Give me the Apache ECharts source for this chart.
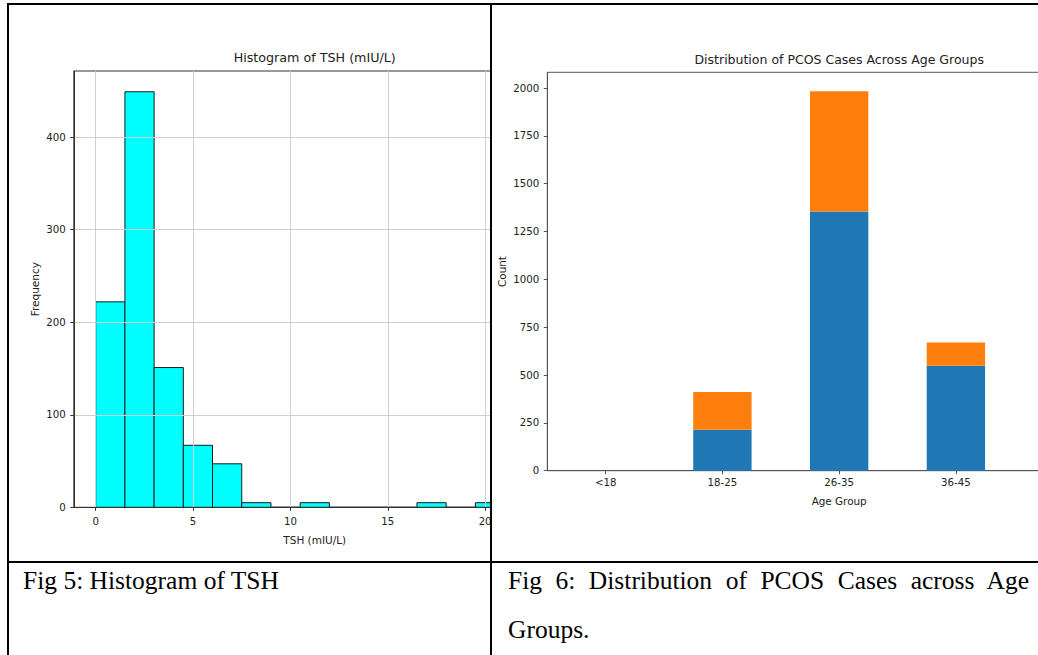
<!DOCTYPE html>
<html>
<head>
<meta charset="utf-8">
<title>TSH histogram and PCOS cases by age group</title>
<script src="https://cdn.jsdelivr.net/npm/echarts@6/dist/echarts.min.js"></script>
<style>
  html, body { margin: 0; padding: 0; background: #fff; }
  body { width: 1038px; height: 655px; position: relative; overflow: hidden; }
  .cell { position: absolute; overflow: hidden; }
  .chart { position: absolute; }
  .rule { position: absolute; background: #000; }
  .caption {
    position: absolute;
    font-family: 'Liberation Serif', 'Times New Roman', serif;
    font-size: 25.5px;
    line-height: 49px;
    color: #000;
  }
</style>
</head>
<body>
<div class="cell" style="left:9px;top:5px;width:481px;height:556px;">
  <div id="tsh" class="chart" style="left:-9px;top:-5px;width:600px;height:560px;"></div>
</div>
<div class="cell" style="left:492px;top:5px;width:546px;height:556px;">
  <div id="age" class="chart" style="left:-492px;top:-5px;width:1200px;height:560px;"></div>
</div>
<div class="caption" style="left:23px;top:556px;">Fig 5: Histogram of TSH</div>
<div class="caption" style="left:508px;top:556px;width:521px;text-align:justify;">Fig 6: Distribution of PCOS Cases across Age Groups.</div>

<div class="rule" style="left:7px;top:3px;width:1031px;height:2px;"></div>
<div class="rule" style="left:7px;top:3px;width:2px;height:652px;"></div>
<div class="rule" style="left:490px;top:3px;width:2px;height:652px;"></div>
<div class="rule" style="left:7px;top:561px;width:1031px;height:2px;"></div>

<script>
// TSH histogram: bin edges (mIU/L) and frequency per bin
const tshBinEdges = [0, 1.5, 3, 4.5, 6, 7.5, 9, 10.5, 12, 13.5, 15, 16.5, 18, 19.5, 21, 22.5];
const tshCounts = [222, 449, 151, 67, 47, 5, 0, 5, 0, 0, 0, 5, 0, 5, 5];
const tshTicks = [0, 5, 10, 15, 20];
const freqTicks = [0, 100, 200, 300, 400];

// PCOS cases per age group (two stacked groups)
const ageGroups = ['<18', '18-25', '26-35', '36-45'];
const groupA = [0, 214, 1355, 548];
const groupB = [0, 197, 628, 122];
const countTicks = [0, 250, 500, 750, 1000, 1250, 1500, 1750, 2000];
// the axis leaves room for one more age band past the last listed group
const ageSlots = ageGroups.length + 1;

const FONT = 'DejaVu Sans';
const INK = '#222';
const plain = v => String(v);

// ---------- Histogram of TSH ----------
const tshLo = tshBinEdges[0];
const tshHi = tshBinEdges[tshBinEdges.length - 1];
const tshPad = (tshHi - tshLo) * 0.05;
const freqTop = Math.max(...tshCounts) * 1.05;
const binRows = tshCounts.map((c, i) => [tshBinEdges[i], tshBinEdges[i + 1], c]);

function renderBin(params, api) {
  const base = api.coord([api.value(0), 0]);
  const top = api.coord([api.value(1), api.value(2)]);
  return {
    type: 'rect',
    shape: { x: base[0], y: top[1], width: top[0] - base[0], height: base[1] - top[1] },
    style: { fill: '#00ffff', stroke: '#1a1a1a', lineWidth: 1 }
  };
}

const tshChart = echarts.init(document.getElementById('tsh'), null, { renderer: 'svg' });
tshChart.setOption({
  animation: false,
  textStyle: { fontFamily: FONT },
  grid: {
    left: 73.8, top: 71, width: 481.9, height: 436.3,
    show: true, borderColor: '#333', borderWidth: 1,
    outerBoundsMode: 'none'
  },
  graphic: [{
    type: 'text', x: 314.7, y: 57,
    style: {
      text: 'Histogram of TSH (mIU/L)', fontFamily: FONT, fontSize: 12.7,
      fill: INK, textAlign: 'center', textVerticalAlign: 'middle'
    }
  }],
  xAxis: {
    type: 'value', min: tshLo - tshPad, max: tshHi + tshPad, z: 3,
    name: 'TSH (mIU/L)', nameLocation: 'middle', nameGap: 27, nameMoveOverlap: false,
    nameTextStyle: { fontSize: 10.5, color: INK, fontFamily: FONT },
    axisLine: { show: true, onZero: false, lineStyle: { color: '#333', width: 1 } },
    axisTick: { show: true, customValues: tshTicks, length: 3.5, lineStyle: { color: '#333' } },
    axisLabel: { customValues: tshTicks, formatter: plain, margin: 9, fontSize: 10.2, color: INK, fontFamily: FONT },
    splitLine: { show: true, lineStyle: { color: '#cfcfcf', width: 1 } }
  },
  yAxis: {
    type: 'value', min: 0, max: freqTop, z: 3,
    name: 'Frequency', nameLocation: 'middle', nameGap: 33, nameMoveOverlap: false,
    nameTextStyle: { fontSize: 10.5, color: INK, fontFamily: FONT },
    axisLine: { show: true, onZero: false, lineStyle: { color: '#333', width: 1 } },
    axisTick: { show: true, customValues: freqTicks, length: 3.5, lineStyle: { color: '#333' } },
    axisLabel: { customValues: freqTicks, formatter: plain, margin: 8, fontSize: 10.2, color: INK, fontFamily: FONT },
    splitLine: { show: true, lineStyle: { color: '#cfcfcf', width: 1 } }
  },
  series: [{
    type: 'custom',
    renderItem: renderBin,
    data: binRows,
    encode: { x: [0, 1], y: 2 },
    clip: true
  }]
});

// ---------- PCOS cases across age groups ----------
const slotIndex = ageGroups.map((g, i) => i);
const stackTotals = groupA.map((v, i) => v + groupB[i]);
const countTop = Math.max(...stackTotals) * 1.05;
const BAR_HALF = 0.25; // half of the bar width, in age-slot units

// each row: [slot, lower edge, upper edge] of one stacked segment
const rowsA = groupA.map((v, i) => [slotIndex[i], 0, v]);
const rowsB = groupB.map((v, i) => [slotIndex[i], groupA[i], groupA[i] + v]);

function segmentRenderer(fill) {
  return function (params, api) {
    const x = api.value(0);
    const lo = api.coord([x - BAR_HALF, api.value(1)]);
    const hi = api.coord([x + BAR_HALF, api.value(2)]);
    return {
      type: 'rect',
      shape: { x: lo[0], y: hi[1], width: hi[0] - lo[0], height: lo[1] - hi[1] },
      style: { fill: fill }
    };
  };
}

const ageChart = echarts.init(document.getElementById('age'), null, { renderer: 'svg' });
ageChart.setOption({
  animation: false,
  textStyle: { fontFamily: FONT },
  grid: {
    left: 547.3, top: 72.3, width: 583.7, height: 398.4,
    show: true, borderColor: '#555', borderWidth: 1,
    outerBoundsMode: 'none'
  },
  graphic: [{
    type: 'text', x: 839.2, y: 59.5,
    style: {
      text: 'Distribution of PCOS Cases Across Age Groups', fontFamily: FONT, fontSize: 12.5,
      fill: INK, textAlign: 'center', textVerticalAlign: 'middle'
    }
  }],
  xAxis: {
    type: 'value', min: -0.5, max: ageSlots - 0.5,
    name: 'Age Group', nameLocation: 'middle', nameGap: 25, nameMoveOverlap: false,
    nameTextStyle: { fontSize: 10.4, color: INK, fontFamily: FONT },
    axisLine: { show: true, onZero: false, lineStyle: { color: '#555', width: 1 } },
    axisTick: { show: true, customValues: slotIndex, length: 3.5, lineStyle: { color: '#555' } },
    axisLabel: {
      customValues: slotIndex, formatter: v => ageGroups[Math.round(v)],
      margin: 6.5, fontSize: 10.2, color: INK, fontFamily: FONT
    },
    splitLine: { show: false }
  },
  yAxis: {
    type: 'value', min: 0, max: countTop,
    name: 'Count', nameLocation: 'middle', nameGap: 40, nameMoveOverlap: false,
    nameTextStyle: { fontSize: 10.4, color: INK, fontFamily: FONT },
    axisLine: { show: true, onZero: false, lineStyle: { color: '#555', width: 1 } },
    axisTick: { show: true, customValues: countTicks, length: 3.5, lineStyle: { color: '#555' } },
    axisLabel: { customValues: countTicks, formatter: plain, margin: 8, fontSize: 10.2, color: INK, fontFamily: FONT },
    splitLine: { show: false }
  },
  series: [
    { name: 'No PCOS', type: 'custom', renderItem: segmentRenderer('#1f77b4'),
      data: rowsA, encode: { x: 0, y: [1, 2] } },
    { name: 'PCOS', type: 'custom', renderItem: segmentRenderer('#ff7f0e'),
      data: rowsB, encode: { x: 0, y: [1, 2] } }
  ]
});
</script>
</body>
</html>
